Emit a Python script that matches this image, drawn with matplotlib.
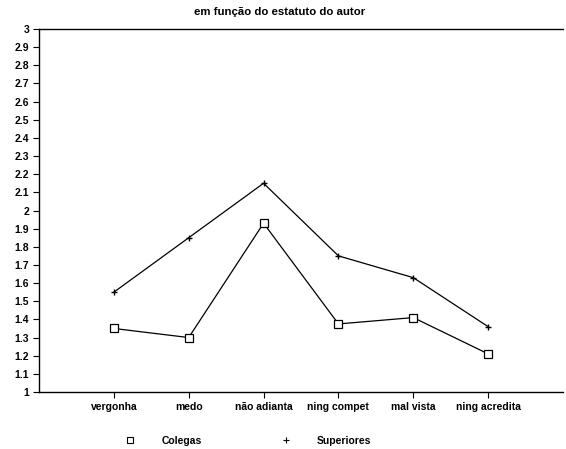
import matplotlib.pyplot as plt
from matplotlib.lines import Line2D

categories = ["vergonha", "medo", "não adianta", "ning compet", "mal vista", "ning acredita"]
colegas = [1.35, 1.30, 1.93, 1.375, 1.41, 1.21]
superiores = [1.55, 1.85, 2.15, 1.75, 1.63, 1.36]
yticks = [1 + i / 10 for i in range(21)]
ytick_labels = ["1", "1.1", "1.2", "1.3", "1.4", "1.5", "1.6", "1.7", "1.8", "1.9", "2",
                "2.1", "2.2", "2.3", "2.4", "2.5", "2.6", "2.7", "2.8", "2.9", "3"]

plt.rcParams["font.family"] = ["Liberation Sans", "DejaVu Sans"]
plt.rcParams["font.weight"] = "bold"

fig = plt.figure(figsize=(5.66, 4.49), dpi=100)
ax = fig.add_axes([39 / 566, 1 - 392 / 449, 524 / 566, 363 / 449])

x = list(range(1, len(categories) + 1))
ax.plot(x, colegas, color="black", lw=0.9, marker="s", ms=5.5, mfc="white", mec="black", mew=0.9)
ax.plot(x, superiores, color="black", lw=0.9, marker="+", ms=5, mew=1.0)

ax.set_xlim(0, 7)
ax.set_ylim(1, 3)
ax.set_xticks(x)
ax.set_xticklabels(categories, fontsize=7.5)
ax.set_yticks(yticks)
ax.set_yticklabels(ytick_labels, fontsize=7.5)
ax.tick_params(axis="both", direction="out", length=4, width=0.8, pad=3)
ax.spines["right"].set_visible(False)
for s in ["left", "top", "bottom"]:
    ax.spines[s].set_linewidth(1.0)

fig.text(280 / 566, 1 - 12 / 449, "em função do estatuto do autor", ha="center", va="center", fontsize=8.2)

handles = [
    Line2D([], [], color="black", ls="none", marker="s", ms=4, mfc="white", mew=0.8),
    Line2D([], [], color="black", ls="none", marker="+", ms=4, mew=0.8),
]
fig.legend(handles, ["Colegas", "Superiores"], loc="center", bbox_to_anchor=(247 / 566, 1 - 441 / 449),
           ncol=2, frameon=False, fontsize=7.5, handlelength=1.5, handletextpad=2.2, columnspacing=7.4)

fig.savefig("out.png", dpi=100)
